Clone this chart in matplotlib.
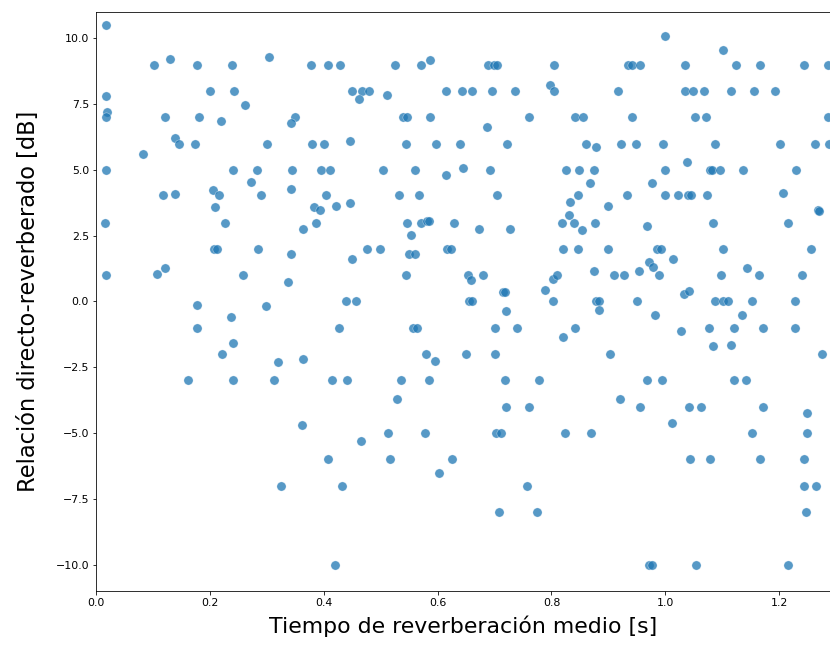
import numpy as np
import matplotlib
matplotlib.use("Agg")
import matplotlib.pyplot as plt

# Tiempo de reverberación medio [s]
t60 = [
    0.017, 0.017, 0.019, 0.017, 0.017, 0.015, 0.017,
    0.102, 0.130, 0.177, 0.238, 0.303, 0.200, 0.242, 0.262, 0.121, 0.181,
    0.219, 0.139, 0.146, 0.174, 0.301, 0.082, 0.240, 0.282, 0.272, 0.118,
    0.139, 0.205, 0.216, 0.289, 0.209,
    0.378, 0.408, 0.429, 0.525, 0.570, 0.586, 0.450, 0.467, 0.479, 0.462,
    0.511, 0.614, 0.643, 0.350, 0.343, 0.539, 0.546, 0.586, 0.380, 0.401,
    0.446, 0.544, 0.598, 0.640, 0.345, 0.396, 0.411, 0.504, 0.560, 0.614,
    0.644, 0.343, 0.404, 0.532, 0.567, 0.382, 0.394, 0.422, 0.446,
    0.689, 0.699, 0.704, 0.804, 0.935, 0.941, 0.956, 0.661, 0.696, 0.736,
    0.797, 0.804, 0.916, 0.760, 0.842, 0.856, 0.942, 0.687, 0.722, 0.860,
    0.879, 0.923, 0.949, 0.692, 0.825, 0.849, 0.874, 0.867, 0.977, 0.704,
    0.832, 0.846, 0.900, 0.933,
    0.999, 1.101, 1.034, 1.125, 1.167, 1.244, 1.285, 1.035, 1.048, 1.068,
    1.115, 1.155, 1.193, 1.052, 1.071, 1.285, 0.996, 1.087, 1.202, 1.263,
    1.288, 0.999, 1.038, 1.078, 1.082, 1.096, 1.136, 1.230, 0.999, 1.022,
    1.040, 1.045, 1.073, 1.206, 1.269,
    0.226, 0.208, 0.213, 0.284, 0.121, 0.107, 0.258, 0.178, 0.298, 0.237,
    0.178, 0.240, 0.221, 0.320, 0.162, 0.240, 0.312,
    0.364, 0.387, 0.343, 0.338, 0.450, 0.476, 0.499, 0.547, 0.571, 0.581,
    0.585, 0.629, 0.553, 0.549, 0.561, 0.616, 0.623, 0.544, 0.439, 0.457,
    0.427, 0.557, 0.564, 0.580, 0.596, 0.364, 0.415, 0.441, 0.535, 0.584,
    0.528,
    0.673, 0.727, 0.830, 0.818, 0.839, 0.853, 0.877, 0.967, 0.820, 0.846,
    0.900, 0.654, 0.659, 0.680, 0.715, 0.719, 0.656, 0.660, 0.720, 0.701,
    0.739, 0.788, 0.802, 0.802, 0.809, 0.874, 0.909, 0.928, 0.954, 0.879,
    0.884, 0.884, 0.951, 0.842, 0.820, 0.650, 0.701, 0.902, 0.718, 0.778,
    0.967, 0.921,
    1.270, 1.083, 1.216, 0.986, 0.992, 1.101, 1.256, 0.971, 0.978, 1.013,
    0.989, 1.097, 1.144, 1.165, 1.240, 1.032, 1.041, 1.087, 1.101, 1.110,
    1.153, 1.228, 0.982, 1.134, 1.027, 1.076, 1.120, 1.172, 1.228, 1.083,
    1.116, 1.275, 0.994, 1.120, 1.141,
    0.325, 0.361, 0.512, 0.577, 0.465, 0.408, 0.516, 0.626, 0.602, 0.432,
    0.420,
    0.720, 0.760, 0.956, 0.702, 0.712, 0.823, 0.870, 0.757, 0.708, 0.774,
    1.041, 1.062, 1.172, 1.249, 1.011, 1.153, 1.249, 1.043, 1.078, 1.167,
    1.244, 1.244, 1.265, 1.247, 0.971, 0.977, 1.054, 1.216,
]

# Relación directo-reverberado [dB]
drr = [
    10.5, 7.8, 7.2, 7.0, 5.0, 3.0, 1.0,
    9.0, 9.2, 9.0, 9.0, 9.3, 8.0, 8.0, 7.47, 7.0, 7.0,
    6.87, 6.2, 6.0, 6.0, 6.0, 5.6, 5.0, 5.0, 4.54, 4.03,
    4.09, 4.24, 4.03, 4.03, 3.59,
    9.0, 9.0, 9.0, 9.0, 9.0, 9.16, 8.0, 8.0, 8.0, 7.68,
    7.83, 8.0, 8.0, 7.0, 6.77, 7.0, 7.0, 7.0, 6.0, 6.0,
    6.11, 6.0, 6.0, 6.0, 5.0, 5.0, 5.0, 5.0, 5.0, 4.79,
    5.09, 4.29, 4.03, 4.03, 4.03, 3.59, 3.49, 3.64, 3.74,
    9.0, 9.0, 9.0, 9.0, 9.0, 9.0, 9.0, 8.0, 8.0, 7.98,
    8.23, 8.0, 8.0, 7.0, 7.0, 7.0, 7.0, 6.62, 6.0, 6.0,
    5.86, 6.0, 6.0, 5.0, 5.0, 5.0, 5.0, 4.49, 4.49, 4.03,
    3.78, 4.03, 3.63, 4.03,
    10.1, 9.55, 9.0, 9.0, 9.0, 9.0, 9.0, 8.0, 8.0, 8.0,
    8.0, 8.0, 8.0, 7.0, 7.0, 7.0, 6.0, 6.0, 6.0, 6.0,
    6.0, 5.0, 5.3, 5.0, 5.0, 5.0, 5.0, 5.0, 4.03, 4.03,
    4.03, 4.03, 4.03, 4.14, 3.49,
    3.0, 2.0, 2.0, 2.0, 1.29, 1.04, 1.0, -0.13, -0.18, -0.58,
    -1.0, -1.59, -2.0, -2.3, -3.0, -3.0, -3.0,
    2.77, 3.0, 1.81, 0.74, 1.61, 2.0, 2.0, 3.0, 3.0, 3.05,
    3.07, 3.0, 2.52, 1.81, 1.81, 2.0, 2.0, 1.0, 0.0, 0.0,
    -1.0, -1.0, -1.0, -2.0, -2.25, -2.2, -3.0, -3.0, -3.0, -3.0,
    -3.7,
    2.77, 2.77, 3.27, 3.0, 3.0, 2.72, 3.0, 2.87, 2.0, 2.0,
    2.0, 1.0, 0.8, 1.0, 0.37, 0.37, 0.0, 0.0, -0.38, -1.0,
    -1.0, 0.43, 0.0, 0.85, 1.0, 1.15, 1.0, 1.0, 1.15, 0.0,
    0.0, -0.33, 0.0, -1.0, -1.34, -2.0, -2.0, -2.0, -3.0, -3.0,
    -3.0, -3.7,
    3.43, 3.0, 3.0, 2.0, 2.0, 2.0, 2.0, 1.51, 1.31, 1.6,
    1.0, 1.0, 1.29, 1.0, 1.0, 0.28, 0.38, 0.0, 0.0, 0.0,
    0.0, 0.0, -0.53, -0.53, -1.14, -1.0, -1.0, -1.0, -1.0, -1.7,
    -1.65, -2.0, -3.0, -3.0, -3.0,
    -7.0, -4.7, -5.0, -5.0, -5.29, -6.0, -6.0, -6.0, -6.51, -7.0,
    -10.0,
    -4.0, -4.0, -4.0, -5.0, -5.0, -5.0, -5.0, -7.0, -8.0, -8.0,
    -4.0, -4.0, -4.0, -4.23, -4.63, -5.0, -5.0, -6.0, -6.0, -6.0,
    -6.0, -7.0, -7.0, -8.0, -10.0, -10.0, -10.0, -10.0,
]

fig = plt.figure(figsize=(830 / 72, 648 / 72), dpi=72)
ax = fig.add_axes([0.1157, 0.088, 0.8855, 0.8935])

ax.scatter(t60, drr, s=85, alpha=0.75, color="#1f77b4",
           edgecolors="white", linewidths=0.4)

ax.set_xlim(0, 1.291)
ax.set_ylim(-11, 11)
ax.set_yticks(np.arange(-10, 10.1, 2.5))
ax.set_xlabel("Tiempo de reverberación medio [s]", fontsize=22, labelpad=8)
ax.set_ylabel("Relación directo-reverberado [dB]", fontsize=22.5, labelpad=15)
ax.tick_params(labelsize=11)

fig.savefig("out.png", dpi=72)
